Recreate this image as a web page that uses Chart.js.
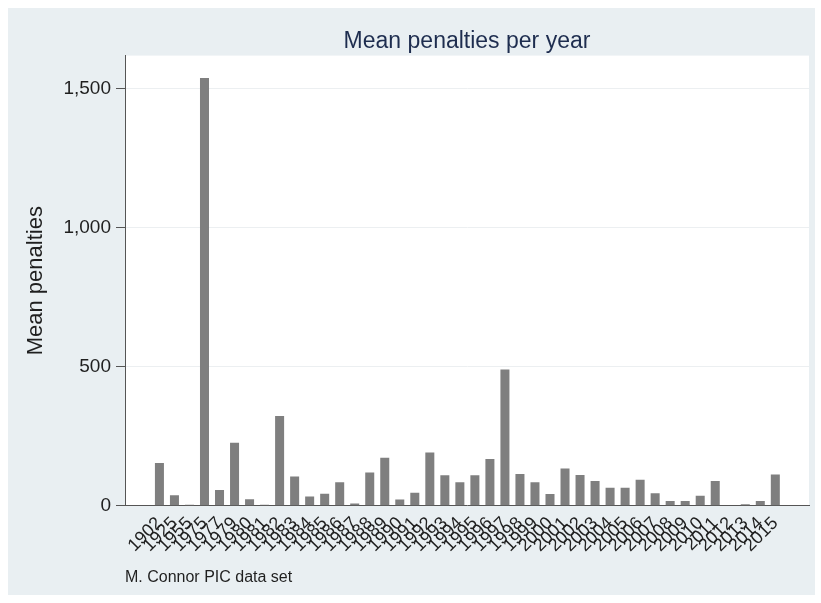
<!DOCTYPE html>
<html>
<head>
<meta charset="utf-8">
<script src="https://cdn.jsdelivr.net/npm/chart.js@4/dist/chart.umd.min.js"></script>
<style>
  html, body { margin: 0; padding: 0; background: #ffffff; }
  #wrap { width: 821px; height: 603px; }
</style>
</head>
<body>
<div id="wrap"><canvas id="penaltyChart" width="821" height="603"></canvas></div>
<script>
// Years with recorded penalties and the mean penalty for each
const years = ['1902', '1925', '1955', '1975', '1977', '1979', '1980', '1981', '1982', '1983',
    '1984', '1985', '1986', '1987', '1988', '1989', '1990', '1991', '1992', '1993',
    '1994', '1995', '1996', '1997', '1998', '1999', '2000', '2001', '2002', '2003',
    '2004', '2005', '2006', '2007', '2008', '2009', '2010', '2011', '2012', '2013',
    '2014', '2015'];
const meanPenalties = [154, 38, 4, 1538, 57, 227, 24, 4, 323, 105,
    33, 43, 85, 8, 120, 173, 23, 47, 192, 110,
    85, 110, 168, 490, 114, 85, 42, 134, 111, 89,
    65, 65, 94, 45, 17, 17, 36, 89, 0, 6,
    17, 113];
const yTicks = [0, 500, 1000, 1500];

const textColor = '#1f1f1f';
const fontFamily = '"Liberation Sans", Arial, Helvetica, sans-serif';

// Stata-like backdrop: bluish-gray graph region with a white plot region
const backdrop = {
    id: 'backdrop',
    beforeDraw(chart) {
        const ctx = chart.ctx;
        const area = chart.chartArea;
        ctx.save();
        ctx.fillStyle = '#ffffff';
        ctx.fillRect(0, 0, chart.width, chart.height);
        ctx.fillStyle = '#e9eff2';
        ctx.fillRect(8, 8, 807, 587);
        ctx.fillStyle = '#ffffff';
        ctx.fillRect(area.left, area.top, area.right - area.left, area.bottom - area.top);
        ctx.restore();
    }
};

const points = meanPenalties.map((v, i) => ({ x: i, y: v }));

new Chart(document.getElementById('penaltyChart'), {
    type: 'bar',
    data: {
        datasets: [{
            label: 'Mean penalties',
            data: points,
            backgroundColor: '#7f7f7f',
            borderWidth: 0,
            categoryPercentage: 1,
            barPercentage: 0.6
        }]
    },
    options: {
        responsive: false,
        animation: false,
        layout: { padding: { top: 0, left: 0, right: 12, bottom: 0 } },
        scales: {
            x: {
                type: 'linear',
                min: -1.75,
                max: 42.7,
                afterBuildTicks: axis => { axis.ticks = years.map((_, i) => ({ value: i })); },
                afterFit: scale => { scale.height = 60; },
                grid: { display: true, drawOnChartArea: false, drawTicks: false },
                border: { display: true, color: '#555555', width: 1 },
                ticks: {
                    autoSkip: false,
                    minRotation: 45,
                    maxRotation: 45,
                    padding: 7,
                    color: textColor,
                    font: { family: fontFamily, size: 18 },
                    callback: value => years[value]
                }
            },
            y: {
                min: 0,
                max: 1619,
                afterBuildTicks: axis => { axis.ticks = yTicks.map(v => ({ value: v })); },
                afterFit: scale => { scale.width = 125; },
                grid: { color: '#eceff1', tickColor: '#555555', tickLength: 9 },
                border: { display: true, color: '#555555', width: 1 },
                ticks: {
                    padding: 5,
                    color: textColor,
                    font: { family: fontFamily, size: 19 },
                    callback: value => value.toLocaleString('en-US')
                },
                title: {
                    display: true,
                    text: 'Mean penalties',
                    color: textColor,
                    font: { family: fontFamily, size: 22 },
                    padding: { top: 23, bottom: 0 }
                }
            }
        },
        plugins: {
            legend: { display: false },
            tooltip: { enabled: false },
            title: {
                display: true,
                text: 'Mean penalties per year',
                fullSize: false,
                color: '#1e2d4f',
                font: { family: fontFamily, size: 23, weight: 'normal' },
                padding: { top: 28, bottom: 0 }
            },
            subtitle: {
                display: true,
                position: 'bottom',
                align: 'start',
                fullSize: false,
                text: 'M. Connor PIC data set',
                color: textColor,
                font: { family: fontFamily, size: 16 },
                padding: { top: 2, bottom: 16 }
            }
        }
    },
    plugins: [backdrop]
});
</script>
</body>
</html>
